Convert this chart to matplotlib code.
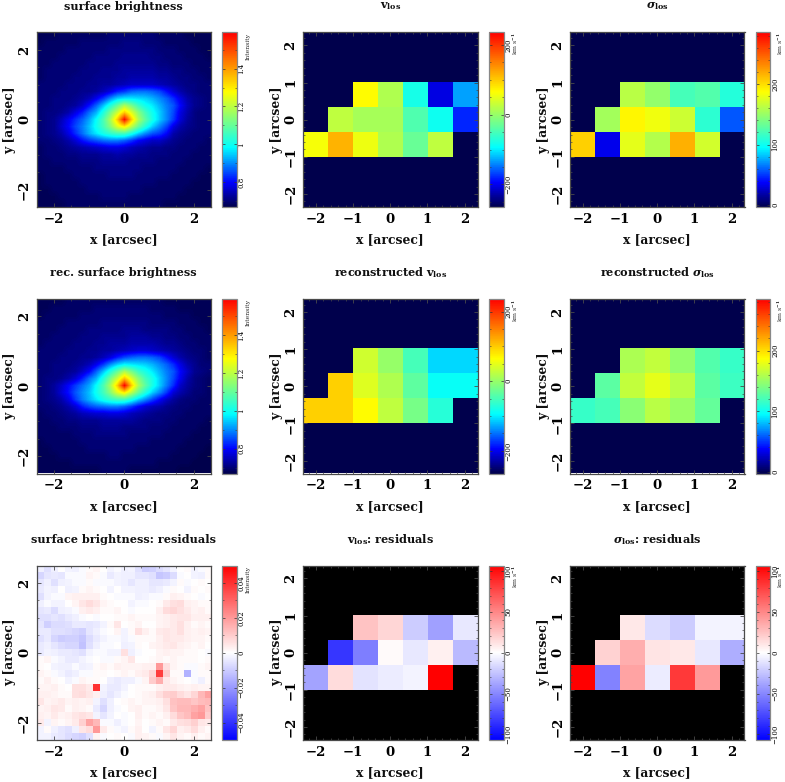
import numpy as np
import matplotlib
matplotlib.use("Agg")
import matplotlib.pyplot as plt
from matplotlib.colors import LinearSegmentedColormap
from matplotlib.ticker import FixedLocator, MultipleLocator, FuncFormatter

plt.rcParams['font.family'] = 'DejaVu Serif'
plt.rcParams['mathtext.fontset'] = 'custom'
plt.rcParams['mathtext.rm'] = 'DejaVu Serif:bold'
plt.rcParams['mathtext.bf'] = 'DejaVu Serif:bold'
plt.rcParams['mathtext.it'] = 'DejaVu Serif:italic:bold'

N = np.nan

# --- observed surface brightness (x100), 0.2 arcsec cells, top row first
sb_obs = [
 [68,68,68,69,69,69,69,69,69,69,70,70,70,70,70,70,70,69,69,69,69,68,68,68,68],
 [68,69,69,69,69,69,70,70,70,70,70,70,71,71,71,70,70,70,69,69,69,69,68,68,68],
 [69,69,69,69,70,70,70,70,70,70,71,71,71,71,71,71,71,70,70,70,69,69,69,68,68],
 [69,69,69,70,70,70,70,70,71,71,71,71,72,72,72,72,71,71,70,70,70,69,69,69,68],
 [69,69,70,70,70,70,70,71,71,71,71,72,72,72,72,72,72,71,71,70,70,70,69,69,69],
 [69,70,70,70,70,70,71,71,71,72,72,72,73,73,73,73,73,72,72,71,71,70,70,69,69],
 [69,70,70,70,70,71,71,71,72,72,72,73,73,74,74,74,74,73,73,72,71,71,70,70,69],
 [70,70,70,70,71,71,71,72,72,73,73,74,75,76,76,76,76,75,74,73,72,71,71,70,70],
 [70,70,70,71,71,71,72,72,73,75,78,82,84,87,88,88,87,85,81,77,74,72,71,70,70],
 [70,70,71,71,71,72,73,75,79,84,90,95,97,97,96,95,93,90,87,83,78,74,72,71,70],
 [70,70,71,71,72,73,76,81,87,94,102,110,118,112,105,100,97,93,89,86,80,75,72,71,70],
 [70,71,71,72,74,78,82,88,93,102,112,122,134,124,114,106,100,95,90,85,78,74,71,70,70],
 [70,71,72,75,79,83,87,92,99,107,118,134,158,134,118,109,101,95,90,84,77,73,71,70,70],
 [70,71,72,76,80,85,89,94,100,106,114,124,130,120,110,102,95,90,85,78,74,72,71,70,70],
 [70,71,72,74,78,83,88,93,97,101,104,106,106,101,95,90,86,84,80,74,72,71,70,70,70],
 [70,70,71,72,74,77,81,84,86,88,89,89,87,84,80,78,76,76,74,72,71,70,70,70,69],
 [69,70,70,71,72,73,74,75,76,77,78,78,77,75,74,73,72,72,71,71,70,70,70,69,69],
 [69,70,70,70,71,71,72,72,72,73,73,74,73,73,72,72,71,71,71,70,70,70,69,69,69],
 [69,69,70,70,70,70,71,71,71,72,72,72,72,71,71,71,71,70,70,70,70,69,69,69,69],
 [69,69,69,69,70,70,70,70,71,71,71,71,71,71,71,70,70,70,70,70,69,69,69,69,68],
 [68,69,69,69,69,70,70,70,70,70,71,71,71,71,70,70,70,70,70,69,69,69,69,68,68],
 [68,69,69,69,69,69,70,70,70,70,70,70,70,70,70,70,70,69,69,69,69,69,68,68,68],
 [68,68,69,69,69,69,69,70,70,70,70,70,70,70,70,69,69,69,69,69,69,68,68,68,68],
 [68,68,68,69,69,69,69,69,69,70,70,70,70,69,69,69,69,69,69,69,68,68,68,68,68],
 [68,68,68,68,69,69,69,69,69,69,69,69,69,69,69,69,69,69,68,68,68,68,68,68,68],
]

# --- reconstructed surface brightness (x100)
sb_rec = [
 [68,68,68,68,69,69,69,69,69,69,69,69,69,69,69,69,69,69,68,68,68,68,68,68,68],
 [68,68,69,69,69,69,69,69,70,70,70,70,70,70,70,70,69,69,69,69,68,68,68,68,68],
 [68,69,69,69,69,69,70,70,70,70,70,70,70,70,70,70,70,70,69,69,69,69,68,68,68],
 [69,69,69,69,70,70,70,70,70,71,71,71,71,71,71,71,70,70,70,70,69,69,69,68,68],
 [69,69,69,70,70,70,70,71,71,71,71,71,72,72,72,71,71,71,71,70,70,69,69,69,68],
 [69,69,70,70,70,70,71,71,71,72,72,72,72,73,73,73,72,72,71,71,70,70,69,69,69],
 [69,70,70,70,70,71,71,71,72,72,73,73,73,74,74,74,74,73,72,72,71,70,70,69,69],
 [70,70,70,70,71,71,71,72,72,73,73,74,75,76,77,77,76,75,74,73,72,71,70,70,69],
 [70,70,70,71,71,71,72,72,73,75,78,82,85,87,88,88,87,85,81,77,74,72,71,70,69],
 [70,70,71,71,71,72,73,75,79,84,90,95,98,97,96,95,93,90,87,83,78,74,72,70,70],
 [70,70,71,71,72,73,76,80,87,94,102,110,118,112,105,101,97,93,89,86,80,76,72,71,70],
 [70,71,71,72,74,77,82,88,93,102,112,122,135,124,114,106,101,95,90,85,79,74,71,70,69],
 [70,71,73,76,80,84,88,92,99,107,118,134,159,134,118,109,101,95,89,83,76,73,71,70,69],
 [70,71,73,77,81,86,90,94,100,106,114,124,130,120,110,102,95,90,84,77,74,72,70,70,69],
 [70,71,72,74,78,84,89,93,97,101,104,106,106,101,95,90,85,80,76,73,71,70,70,69,69],
 [70,70,71,72,74,77,82,85,87,88,89,89,87,84,80,77,75,74,72,71,70,70,69,69,69],
 [69,70,70,71,72,73,75,76,77,77,78,78,77,75,74,73,72,71,71,70,70,69,69,69,69],
 [69,69,70,70,71,71,72,72,72,73,73,73,73,73,72,71,71,71,70,70,69,69,69,69,68],
 [69,69,69,70,70,70,71,71,71,72,72,72,71,71,71,71,70,70,70,69,69,69,69,68,68],
 [69,69,69,69,69,70,70,70,71,71,71,71,71,70,70,70,70,70,69,69,69,69,68,68,68],
 [68,69,69,69,69,69,70,70,70,70,70,70,70,70,70,70,69,69,69,69,69,68,68,68,68],
 [68,68,69,69,69,69,69,70,70,70,70,70,70,70,69,69,69,69,69,69,68,68,68,68,67],
 [68,68,68,69,69,69,69,69,69,69,70,70,69,69,69,69,69,69,69,68,68,68,68,67,67],
 [68,68,68,68,68,69,69,69,69,69,69,69,69,69,69,69,69,68,68,68,68,68,67,67,67],
 [68,68,68,68,68,68,68,68,68,69,69,69,69,68,68,68,68,68,68,68,67,67,67,67,67],
]

# --- surface brightness residuals (x1000)
sb_res = [
 [-3,-6,-3,0,-2,-3,-1,1,2,0,-2,-1,-3,-2,-6,-10,-9,-7,-5,-2,0,1,-2,-1,1],
 [-8,-5,-4,-5,-1,-1,-1,2,1,-1,-4,-2,-3,-3,-5,-5,-6,-11,-10,-7,-1,0,-2,-3,1],
 [-5,-3,-6,-3,-2,-1,-1,1,-1,-1,-1,-2,-3,-5,-3,-3,-5,-5,-4,-2,1,-1,0,1,0],
 [-4,-2,-3,0,-3,-2,1,2,1,0,-2,0,-2,-2,-3,-3,-4,-3,-1,1,0,-2,1,0,1],
 [-6,-2,-1,-1,2,3,3,3,3,1,0,-1,-1,-1,-3,-2,-1,-1,1,3,2,1,0,-1,0],
 [-3,-1,-2,-2,0,2,5,7,5,2,1,0,0,-2,-1,-1,0,1,4,6,7,3,2,1,1],
 [-5,-4,-7,-3,-2,-1,3,4,3,1,1,2,0,-1,0,0,0,3,7,8,6,4,2,3,1],
 [-6,-6,-5,-6,-4,-3,-1,0,-1,0,0,1,1,2,1,1,1,2,3,4,5,5,3,3,3],
 [-5,-9,-7,-7,-6,-4,-4,-5,-4,-2,1,5,0,1,2,0,0,2,3,4,6,3,1,2,1],
 [-4,-4,-6,-6,-7,-8,-9,-5,-3,-1,0,2,-2,1,6,3,1,4,5,4,6,3,2,3,2],
 [-6,-4,-8,-10,-9,-9,-11,-7,-4,-2,-1,-1,-2,-1,1,1,1,3,5,4,4,3,2,2,1],
 [-4,-3,-5,-7,-8,-8,-12,-6,-3,-1,-1,0,-3,-2,1,0,2,3,4,5,3,2,1,2,0],
 [-4,-2,-3,-4,-4,-5,-6,-2,-1,-1,-2,-2,6,-3,-1,0,0,2,3,2,2,1,1,0,-1],
 [1,2,-1,-2,-4,-4,-2,-1,0,-1,-1,1,2,5,0,0,1,2,1,2,1,1,1,0,1],
 [1,0,-2,-3,-3,-1,-3,-2,1,2,1,3,2,2,2,3,3,20,6,2,1,-1,-1,1,2],
 [2,1,-1,-2,-4,-3,-1,-1,1,1,0,1,2,1,3,4,8,38,10,1,1,-15,-1,1,1],
 [1,3,1,0,-2,-1,2,1,1,0,-3,-4,-3,-3,-1,2,10,16,4,2,1,0,-1,-3,1],
 [2,2,3,1,0,6,6,4,40,-2,-4,-4,-2,0,1,1,1,3,4,4,3,2,3,2,2],
 [3,3,2,1,1,6,7,5,3,-3,-5,-3,-1,0,1,2,3,6,9,10,7,5,8,14,18],
 [5,2,3,4,2,3,2,3,-2,-6,-3,0,1,2,1,2,2,3,6,12,13,13,11,13,14],
 [2,3,5,4,1,3,2,1,-4,-8,-3,-1,0,2,3,1,1,2,5,11,14,14,16,18,12],
 [3,2,4,2,3,5,6,5,-2,-5,-2,0,-1,0,3,1,2,1,3,7,11,13,18,20,10],
 [4,-2,2,1,2,4,9,18,14,-1,-1,-3,-1,0,2,0,1,2,1,4,6,7,9,5,4],
 [-2,1,-3,-5,-6,-3,5,7,20,4,1,-1,-2,1,3,0,-2,1,5,8,3,4,7,3,1],
 [-2,-2,-4,-5,-7,-8,-9,-6,2,-1,0,1,0,-1,3,2,1,-1,2,5,2,1,3,1,2],
]

# --- kinematic maps (km/s), 7x7 spaxels, top row first
v_los = [
 [N,N,N,N,N,N,N], [N,N,N,N,N,N,N],
 [N,N,66,16,-80,-205,-130],
 [N,26,10,10,-45,-85,-180],
 [60,116,55,16,-30,25,N],
 [N,N,N,N,N,N,N], [N,N,N,N,N,N,N],
]
sigma_los = [
 [N,N,N,N,N,N,N], [N,N,N,N,N,N,N],
 [N,N,162,148,120,125,108],
 [N,154,190,182,168,111,57],
 [205,34,177,160,217,171,N],
 [N,N,N,N,N,N,N], [N,N,N,N,N,N,N],
]
v_rec = [
 [N,N,N,N,N,N,N], [N,N,N,N,N,N,N],
 [N,N,36,0,-50,-110,-110],
 [N,96,46,16,-35,-90,-90],
 [96,96,66,26,-20,-70,N],
 [N,N,N,N,N,N,N], [N,N,N,N,N,N,N],
]
sigma_rec = [
 [N,N,N,N,N,N,N], [N,N,N,N,N,N,N],
 [N,N,157,165,148,125,114],
 [N,128,165,177,162,128,117],
 [114,120,145,162,151,131,N],
 [N,N,N,N,N,N,N], [N,N,N,N,N,N,N],
]
v_res = [
 [N,N,N,N,N,N,N], [N,N,N,N,N,N,N],
 [N,N,25,17,-21,-40,-10],
 [N,-84,-54,2,-10,6,-29],
 [-38,15,-11,-8,-5,107,N],
 [N,N,N,N,N,N,N], [N,N,N,N,N,N,N],
]
sigma_res = [
 [N,N,N,N,N,N,N], [N,N,N,N,N,N,N],
 [N,N,10,-15,-21,-5,-5],
 [N,19,34,11,10,-10,-34],
 [107,-52,38,-8,82,42,N],
 [N,N,N,N,N,N,N], [N,N,N,N,N,N,N],
]

titles = ['surface brightness', r'$\mathbf{v}_{\mathbf{los}}$', r'$\sigma_{\mathbf{los}}$',
          'rec. surface brightness', r'reconstructed $\mathbf{v}_{\mathbf{los}}$',
          r'reconstructed $\sigma_{\mathbf{los}}$',
          'surface brightness: residuals', r'$\mathbf{v}_{\mathbf{los}}$: residuals',
          r'$\sigma_{\mathbf{los}}$: residuals']

W, H = 785, 782
fig = plt.figure(figsize=(W/100, H/100), dpi=100, facecolor='white')

cmap_rain = LinearSegmentedColormap.from_list('rain', [
    (0.00, (0, 0, 0.30)), (0.14, (0, 0, 1)), (0.34, (0, 1, 1)),
    (0.50, (0.5, 1, 0.5)), (0.66, (1, 1, 0)), (1.00, (1, 0, 0))], N=256)
cmap_rain.set_bad((0, 0, 0.30))
cmap_res = LinearSegmentedColormap.from_list('res', ['#0000ff', '#ffffff', '#ff0000'], N=256)
cmap_res.set_bad('black')

ax_left = [36.5, 303, 570]
cb_left = [222, 489, 755.5]
row_top = [32.5, 299, 565.5]
title_y = [6, 273, 539.5]
xlab_y = [240, 506.5, 773]
unit_x = [248.5, 515.5, 780]
PW, CW = 174.5, 14.5
FRAME = '#4a4a4a'
bold = dict(fontweight='bold', color='#111111')

def axrect(l, t, w, h):
    return [l/W, 1-(t+h)/H, w/W, h/H]

def panel(r, c, data, cmap, vmin, vmax, lim, major, minor, cticks, cminor, unit, interp):
    ax = fig.add_axes(axrect(ax_left[c], row_top[r], PW, PW))
    im = ax.imshow(data, extent=[-lim, lim, -lim, lim], origin='upper', cmap=cmap,
                   vmin=vmin, vmax=vmax, aspect='auto', interpolation=interp)
    ax.set_xlim(-lim, lim); ax.set_ylim(-lim, lim)
    ax.xaxis.set_major_locator(FixedLocator(major))
    ax.yaxis.set_major_locator(FixedLocator(major))
    ax.xaxis.set_minor_locator(MultipleLocator(minor))
    ax.yaxis.set_minor_locator(MultipleLocator(minor))
    ax.tick_params(which='major', direction='in', top=True, right=True, length=3.2,
                   width=0.6, color=FRAME, labelsize=9.5, pad=4)
    ax.tick_params(which='minor', direction='in', top=True, right=True, length=1.6,
                   width=0.5, color=FRAME)
    for t in ax.get_xticklabels():
        t.set_fontweight('bold')
    for t in ax.get_yticklabels():
        t.set_fontweight('bold'); t.set_rotation(90); t.set_va('center')
    for s in ax.spines.values():
        s.set_color(FRAME); s.set_linewidth(0.9)
    cx = ax_left[c] + PW/2
    fig.text(cx/W, 1-xlab_y[r]/H, 'x [arcsec]', ha='center', va='center', fontsize=8.9, **bold)
    fig.text((ax_left[c]-26.5)/W, 1-(row_top[r]+PW/2)/H, 'y [arcsec]', ha='center', va='center',
             rotation=90, fontsize=8.9, **bold)
    fig.text(cx/W, 1-title_y[r]/H, titles[r*3+c], ha='center', va='center', fontsize=8.1, **bold)

    cax = fig.add_axes(axrect(cb_left[c], row_top[r], CW, PW))
    cb = fig.colorbar(im, cax=cax)
    cb.outline.set_edgecolor('#888888'); cb.outline.set_linewidth(0.9)
    cax.yaxis.set_major_locator(FixedLocator(cticks))
    cax.yaxis.set_minor_locator(MultipleLocator(cminor))
    cax.yaxis.set_major_formatter(FuncFormatter(lambda v, p: f'{v:g}'.replace('-', '\u2212')))
    cax.tick_params(which='major', direction='in', left=True, right=True, length=2.2,
                    width=0.5, color='#333333', labelsize=5.0, pad=0.8)
    cax.tick_params(which='minor', direction='in', left=True, right=True, length=1.1,
                    width=0.4, color='#333333')
    for t in cax.get_yticklabels():
        t.set_rotation(90); t.set_va('center')
    fig.text(unit_x[c]/W, 1-row_top[r]/H, unit, rotation=90, ha='center', va='top',
             fontsize=4.4, color='#222222')

KMS = r'km s$^{-1}$'
arcs_lim, kin_lim = 2.5, 2.35
sb_major, kin_major = [-2, 0, 2], [-2, -1, 0, 1, 2]
sb_ticks = [0.8, 1.0, 1.2, 1.4]
v_ticks, s_ticks = [-200, 0, 200], [0, 100, 200]
res_ticks = [-100, -50, 0, 50, 100]
i_ticks = [-0.04, -0.02, 0, 0.02, 0.04]

to_sb = lambda a: np.array(a, float) / 100
to_res = lambda a: np.array(a, float) / 1000

panel(0, 0, to_sb(sb_obs), cmap_rain, 0.67, 1.59, arcs_lim, sb_major, 0.5, sb_ticks, 0.1, 'Intensity', 'bilinear')
panel(0, 1, v_los, cmap_rain, -265, 236, kin_lim, kin_major, 0.2, v_ticks, 50, KMS, 'nearest')
panel(0, 2, sigma_los, cmap_rain, -3, 285, kin_lim, kin_major, 0.2, s_ticks, 20, KMS, 'nearest')
panel(1, 0, to_sb(sb_rec), cmap_rain, 0.67, 1.59, arcs_lim, sb_major, 0.5, sb_ticks, 0.1, 'Intensity', 'bilinear')
panel(1, 1, v_rec, cmap_rain, -265, 236, kin_lim, kin_major, 0.2, v_ticks, 50, KMS, 'nearest')
panel(1, 2, sigma_rec, cmap_rain, -3, 285, kin_lim, kin_major, 0.2, s_ticks, 20, KMS, 'nearest')
panel(2, 0, to_res(sb_res), cmap_res, -0.05, 0.05, arcs_lim, sb_major, 0.5, i_ticks, 0.01, 'Intensity', 'nearest')
panel(2, 1, v_res, cmap_res, -107, 107, kin_lim, kin_major, 0.2, res_ticks, 10, KMS, 'nearest')
panel(2, 2, sigma_res, cmap_res, -107, 107, kin_lim, kin_major, 0.2, res_ticks, 10, KMS, 'nearest')

fig.savefig('out.png', dpi=100)
